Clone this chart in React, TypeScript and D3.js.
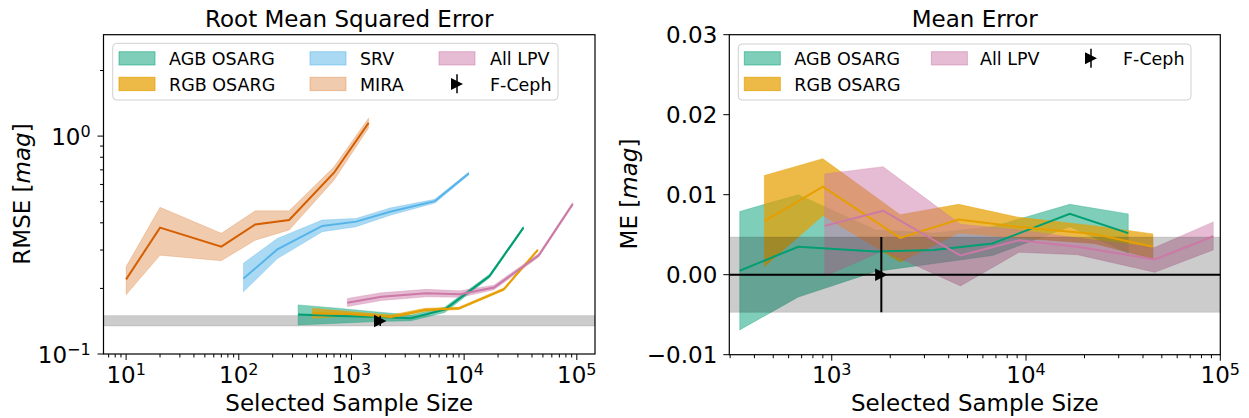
import React from "react";
import * as d3 from "d3";

const W = 1249;
const H = 418;
const FONT = "DejaVu Sans, sans-serif";

// sample sizes per class
const AGB_N = [336, 672, 1680, 3360, 6720, 16800, 33600];
const RGB_N = [450, 900, 2250, 4500, 9000, 22500, 45000];
const LPV_N = [920, 1840, 4600, 9200, 18400, 46000, 92000];
const SRV_N = [110, 220, 550, 1100, 2200, 5500, 11000];
const MIRA_N = [10, 20, 70, 140, 280, 700, 1420];

// RMSE (left panel)
const AGB_RMSE = [0.152, 0.15, 0.148, 0.146, 0.16, 0.228, 0.38];
const AGB_RMSE_LO = [0.136, 0.138, 0.141, 0.142, 0.155, 0.224, 0.375];
const AGB_RMSE_HI = [0.168, 0.163, 0.156, 0.151, 0.164, 0.232, 0.385];
const RGB_RMSE = [0.154, 0.153, 0.148, 0.159, 0.162, 0.198, 0.3];
const RGB_RMSE_LO = [0.146, 0.149, 0.146, 0.157, 0.16, 0.196, 0.297];
const RGB_RMSE_HI = [0.162, 0.157, 0.151, 0.162, 0.164, 0.201, 0.303];
const LPV_RMSE = [0.172, 0.183, 0.19, 0.188, 0.202, 0.284, 0.488];
const LPV_RMSE_LO = [0.165, 0.176, 0.183, 0.182, 0.197, 0.279, 0.48];
const LPV_RMSE_HI = [0.18, 0.191, 0.198, 0.195, 0.207, 0.289, 0.496];
const SRV_RMSE = [0.222, 0.302, 0.387, 0.405, 0.45, 0.503, 0.674];
const SRV_RMSE_LO = [0.193, 0.274, 0.364, 0.384, 0.433, 0.493, 0.664];
const SRV_RMSE_HI = [0.261, 0.339, 0.412, 0.419, 0.468, 0.513, 0.684];
const MIRA_RMSE = [0.22, 0.38, 0.311, 0.393, 0.412, 0.679, 1.15];
const MIRA_RMSE_LO = [0.187, 0.284, 0.268, 0.333, 0.371, 0.628, 1.09];
const MIRA_RMSE_HI = [0.252, 0.471, 0.358, 0.454, 0.454, 0.723, 1.21];

// ME (right panel)
const AGB_ME = [0.0005, 0.0035, 0.0029, 0.0031, 0.0039, 0.0076, 0.0052];
const AGB_ME_LO = [-0.0069, -0.0028, 0.0004, 0.0014, 0.0024, 0.006, 0.0027];
const AGB_ME_HI = [0.0079, 0.01, 0.0056, 0.0052, 0.006, 0.0088, 0.0076];
const RGB_ME = [0.0067, 0.011, 0.0046, 0.0069, 0.006, 0.0051, 0.0035];
const RGB_ME_LO = [0.001, 0.0074, 0.0016, 0.0052, 0.0046, 0.0039, 0.002];
const RGB_ME_HI = [0.0124, 0.0145, 0.0075, 0.0088, 0.0072, 0.0061, 0.0051];
const LPV_ME = [0.0061, 0.008, 0.0024, 0.0043, 0.0035, 0.0019, 0.0048];
const LPV_ME_LO = [-0.0002, 0.003, -0.0014, 0.0028, 0.0025, 0.0003, 0.0031];
const LPV_ME_HI = [0.0126, 0.0135, 0.0063, 0.0056, 0.0046, 0.0034, 0.0066];

// F-Ceph reference
const CEPH_N = 1800;
const CEPH_RMSE = 0.1418;
const CEPH_RMSE_LO = 0.1344;
const CEPH_RMSE_HI = 0.15;
const CEPH_ME = 0;
const CEPH_ME_ERR = 0.0047;

const ME_TICKS = [-0.01, 0, 0.01, 0.02, 0.03];

const C_AGB = "#009e73";
const C_RGB = "#e69f00";
const C_LPV = "#cc79a7";
const C_SRV = "#56b4e9";
const C_MIRA = "#d55e00";

type Series = {
  name: string;
  color: string;
  alpha: number;
  n: number[];
  mid: number[];
  lo: number[];
  hi: number[];
};

const rmseSeries: Series[] = [
  { name: "AGB OSARG", color: C_AGB, alpha: 0.5, n: AGB_N, mid: AGB_RMSE, lo: AGB_RMSE_LO, hi: AGB_RMSE_HI },
  { name: "RGB OSARG", color: C_RGB, alpha: 0.72, n: RGB_N, mid: RGB_RMSE, lo: RGB_RMSE_LO, hi: RGB_RMSE_HI },
  { name: "SRV", color: C_SRV, alpha: 0.5, n: SRV_N, mid: SRV_RMSE, lo: SRV_RMSE_LO, hi: SRV_RMSE_HI },
  { name: "MIRA", color: C_MIRA, alpha: 0.32, n: MIRA_N, mid: MIRA_RMSE, lo: MIRA_RMSE_LO, hi: MIRA_RMSE_HI },
  { name: "All LPV", color: C_LPV, alpha: 0.5, n: LPV_N, mid: LPV_RMSE, lo: LPV_RMSE_LO, hi: LPV_RMSE_HI },
];

const meSeries: Series[] = [
  { name: "AGB OSARG", color: C_AGB, alpha: 0.5, n: AGB_N, mid: AGB_ME, lo: AGB_ME_LO, hi: AGB_ME_HI },
  { name: "RGB OSARG", color: C_RGB, alpha: 0.72, n: RGB_N, mid: RGB_ME, lo: RGB_ME_LO, hi: RGB_ME_HI },
  { name: "All LPV", color: C_LPV, alpha: 0.5, n: LPV_N, mid: LPV_ME, lo: LPV_ME_LO, hi: LPV_ME_HI },
];

const LEFT = { x0: 103.5, x1: 595, y0: 34.7, y1: 354 };
const RIGHT = { x0: 729.3, x1: 1220.3, y0: 34.7, y1: 354.7 };

const TICK_FS = 23;
const LEG_FS = 17.5;

function Pow10({ x, y, exp, anchor }: { x: number; y: number; exp: number; anchor: string }) {
  const e = exp < 0 ? "\u2212" + Math.abs(exp) : String(exp);
  return (
    <text x={x} y={y} textAnchor={anchor} fontSize={TICK_FS} fontFamily={FONT}>
      <tspan>10</tspan>
      <tspan dy={-8} fontSize={16}>{e}</tspan>
    </text>
  );
}

function Triangle({ cx, cy, s }: { cx: number; cy: number; s: number }) {
  return <path d={`M${cx + s},${cy}L${cx - s},${cy - s}L${cx - s},${cy + s}Z`} fill="#000" />;
}

function bandArea(s: Series, x: any, y: any) {
  const rows = s.n.map((n, i) => ({ n, lo: s.lo[i], hi: s.hi[i] }));
  return d3
    .area<any>()
    .x((d) => x(d.n))
    .y0((d) => y(d.lo))
    .y1((d) => y(d.hi))(rows) as string;
}

function midLine(s: Series, x: any, y: any) {
  const rows = s.n.map((n, i) => ({ n, v: s.mid[i] }));
  return d3
    .line<any>()
    .x((d) => x(d.n))
    .y((d) => y(d.v))(rows) as string;
}

function XAxis({ x, box }: { x: any; box: typeof LEFT }) {
  const ticks = x.ticks();
  return (
    <g>
      {ticks.map((t: number, i: number) => {
        const lg = Math.log10(t);
        const major = Math.abs(lg - Math.round(lg)) < 1e-9;
        const px = x(t);
        if (px < box.x0 - 0.5 || px > box.x1 + 0.5) return null;
        return (
          <g key={i}>
            <line x1={px} x2={px} y1={box.y1} y2={box.y1 + (major ? 6 : 3.5)} stroke="#000" strokeWidth={1} />
            {major && <Pow10 x={px} y={383} exp={Math.round(lg)} anchor="middle" />}
          </g>
        );
      })}
      <text x={(box.x0 + box.x1) / 2} y={411} textAnchor="middle" fontSize={TICK_FS} fontFamily={FONT}>
        Selected Sample Size
      </text>
    </g>
  );
}

function Legend({ box, items }: { box: { x: number; y: number; w: number; h: number }; items: any[] }) {
  return (
    <g>
      <rect x={box.x} y={box.y} width={box.w} height={box.h} rx={4} fill="#fff" fillOpacity={0.8} stroke="#d0d0d0" strokeWidth={1} />
      {items.map((it, i) => (
        <g key={i}>
          {it.marker ? (
            <g>
              <line x1={it.px + 18} x2={it.px + 18} y1={it.py - 3} y2={it.py + 16} stroke="#000" strokeWidth={1.5} />
              <Triangle cx={it.px + 18} cy={it.py + 6.6} s={6} />
            </g>
          ) : (
            <rect x={it.px} y={it.py} width={36} height={13.3} fill={it.color} fillOpacity={it.alpha} stroke={it.color} strokeOpacity={it.alpha} strokeWidth={1} />
          )}
          <text x={it.tx} y={it.py + 13.3} fontSize={LEG_FS} fontFamily={FONT}>
            {it.label}
          </text>
        </g>
      ))}
    </g>
  );
}

function LeftPanel() {
  const box = LEFT;
  const x = d3.scaleLog().domain([6.3, 145000]).range([box.x0, box.x1]);
  const y = d3.scaleLog().domain([0.1, 2.92]).range([box.y1, box.y0]);
  const yTicks = y.ticks();
  const legendItems = [
    { label: "AGB OSARG", color: C_AGB, alpha: 0.5, px: 119, tx: 169, py: 51.7 },
    { label: "RGB OSARG", color: C_RGB, alpha: 0.72, px: 119, tx: 169, py: 77.3 },
    { label: "SRV", color: C_SRV, alpha: 0.5, px: 310, tx: 360, py: 51.7 },
    { label: "MIRA", color: C_MIRA, alpha: 0.32, px: 310, tx: 360, py: 77.3 },
    { label: "All LPV", color: C_LPV, alpha: 0.5, px: 439, tx: 490, py: 51.7 },
    { label: "F-Ceph", marker: true, px: 439, tx: 490, py: 77.3 },
  ];
  return (
    <g>
      <text x={(box.x0 + box.x1) / 2} y={26.7} textAnchor="middle" fontSize={TICK_FS} fontFamily={FONT}>
        Root Mean Squared Error
      </text>
      <defs>
        <clipPath id="clipL">
          <rect x={box.x0} y={box.y0} width={box.x1 - box.x0} height={box.y1 - box.y0} />
        </clipPath>
      </defs>
      <g clipPath="url(#clipL)">
        <rect x={box.x0} y={y(CEPH_RMSE_HI)} width={box.x1 - box.x0} height={y(CEPH_RMSE_LO) - y(CEPH_RMSE_HI)} fill="#000" fillOpacity={0.2} stroke="#000" strokeOpacity={0.1} />
        {rmseSeries.map((s) => (
          <path key={s.name + "b"} d={bandArea(s, x, y)} fill={s.color} fillOpacity={s.alpha} stroke={s.color} strokeOpacity={s.alpha * 0.6} strokeWidth={1} />
        ))}
        {rmseSeries.map((s) => (
          <path key={s.name + "l"} d={midLine(s, x, y)} fill="none" stroke={s.color} strokeWidth={2} />
        ))}
        <line x1={x(CEPH_N)} x2={x(CEPH_N)} y1={y(CEPH_RMSE_LO)} y2={y(CEPH_RMSE_HI)} stroke="#000" strokeWidth={1.5} />
        <Triangle cx={x(CEPH_N)} cy={y(CEPH_RMSE)} s={6.2} />
      </g>
      {yTicks.map((t: number, i: number) => {
        const lg = Math.log10(t);
        const major = Math.abs(lg - Math.round(lg)) < 1e-9;
        const py = y(t);
        return (
          <g key={i}>
            <line x1={box.x0} x2={box.x0 - (major ? 6 : 3.5)} y1={py} y2={py} stroke="#000" strokeWidth={1} />
            {major && <Pow10 x={90.7} y={py + 8.5} exp={Math.round(lg)} anchor="end" />}
          </g>
        );
      })}
      <XAxis x={x} box={box} />
      <rect x={box.x0} y={box.y0} width={box.x1 - box.x0} height={box.y1 - box.y0} fill="none" stroke="#000" strokeWidth={1.2} />
      <Legend box={{ x: 112.7, y: 43.3, w: 445.3, h: 56.7 }} items={legendItems} />
      <text transform={`translate(30,194) rotate(-90)`} textAnchor="middle" fontSize={TICK_FS} fontFamily={FONT}>
        RMSE [<tspan fontStyle="italic">mag</tspan>]
      </text>
    </g>
  );
}

function RightPanel() {
  const box = RIGHT;
  const x = d3.scaleLog().domain([297, 100000]).range([box.x0, box.x1]);
  const y = d3.scaleLinear().domain([-0.01, 0.03]).range([box.y1, box.y0]);
  const legendItems = [
    { label: "AGB OSARG", color: C_AGB, alpha: 0.5, px: 744.3, tx: 794.3, py: 51.7 },
    { label: "RGB OSARG", color: C_RGB, alpha: 0.72, px: 744.3, tx: 794.3, py: 77.3 },
    { label: "All LPV", color: C_LPV, alpha: 0.5, px: 931.4, tx: 980, py: 51.7 },
    { label: "F-Ceph", marker: true, px: 1073, tx: 1123, py: 51.7 },
  ];
  return (
    <g>
      <text x={(box.x0 + box.x1) / 2} y={26.7} textAnchor="middle" fontSize={TICK_FS} fontFamily={FONT}>
        Mean Error
      </text>
      <defs>
        <clipPath id="clipR">
          <rect x={box.x0} y={box.y0} width={box.x1 - box.x0} height={box.y1 - box.y0} />
        </clipPath>
      </defs>
      <g clipPath="url(#clipR)">
        {meSeries.map((s) => (
          <path key={s.name + "b"} d={bandArea(s, x, y)} fill={s.color} fillOpacity={s.alpha} stroke={s.color} strokeOpacity={s.alpha * 0.6} strokeWidth={1} />
        ))}
        <rect x={box.x0} y={y(CEPH_ME_ERR)} width={box.x1 - box.x0} height={y(-CEPH_ME_ERR) - y(CEPH_ME_ERR)} fill="#000" fillOpacity={0.2} stroke="#000" strokeOpacity={0.1} />
        {meSeries.map((s) => (
          <path key={s.name + "l"} d={midLine(s, x, y)} fill="none" stroke={s.color} strokeWidth={2} />
        ))}
        <line x1={box.x0} x2={box.x1} y1={y(0)} y2={y(0)} stroke="#000" strokeWidth={2} />
        <line x1={x(CEPH_N)} x2={x(CEPH_N)} y1={y(CEPH_ME - CEPH_ME_ERR)} y2={y(CEPH_ME + CEPH_ME_ERR)} stroke="#000" strokeWidth={2} />
        <Triangle cx={x(CEPH_N)} cy={y(CEPH_ME)} s={6.2} />
      </g>
      {ME_TICKS.map((t, i) => {
        const py = y(t);
        return (
          <g key={i}>
            <line x1={box.x0} x2={box.x0 - 6} y1={py} y2={py} stroke="#000" strokeWidth={1} />
            <text x={717.3} y={py + 8.5} textAnchor="end" fontSize={TICK_FS} fontFamily={FONT}>
              {t < 0 ? "\u2212" + Math.abs(t).toFixed(2) : t.toFixed(2)}
            </text>
          </g>
        );
      })}
      <XAxis x={x} box={box} />
      <rect x={box.x0} y={box.y0} width={box.x1 - box.x0} height={box.y1 - box.y0} fill="none" stroke="#000" strokeWidth={1.2} />
      <Legend box={{ x: 738.3, y: 44, w: 452.7, h: 56 }} items={legendItems} />
      <text transform={`translate(637,194) rotate(-90)`} textAnchor="middle" fontSize={TICK_FS} fontFamily={FONT}>
        ME [<tspan fontStyle="italic">mag</tspan>]
      </text>
    </g>
  );
}

export default function App() {
  return (
    <svg width={W} height={H} style={{ position: "absolute", left: 0, top: 0, background: "#fff" }}>
      <LeftPanel />
      <RightPanel />
    </svg>
  );
}
